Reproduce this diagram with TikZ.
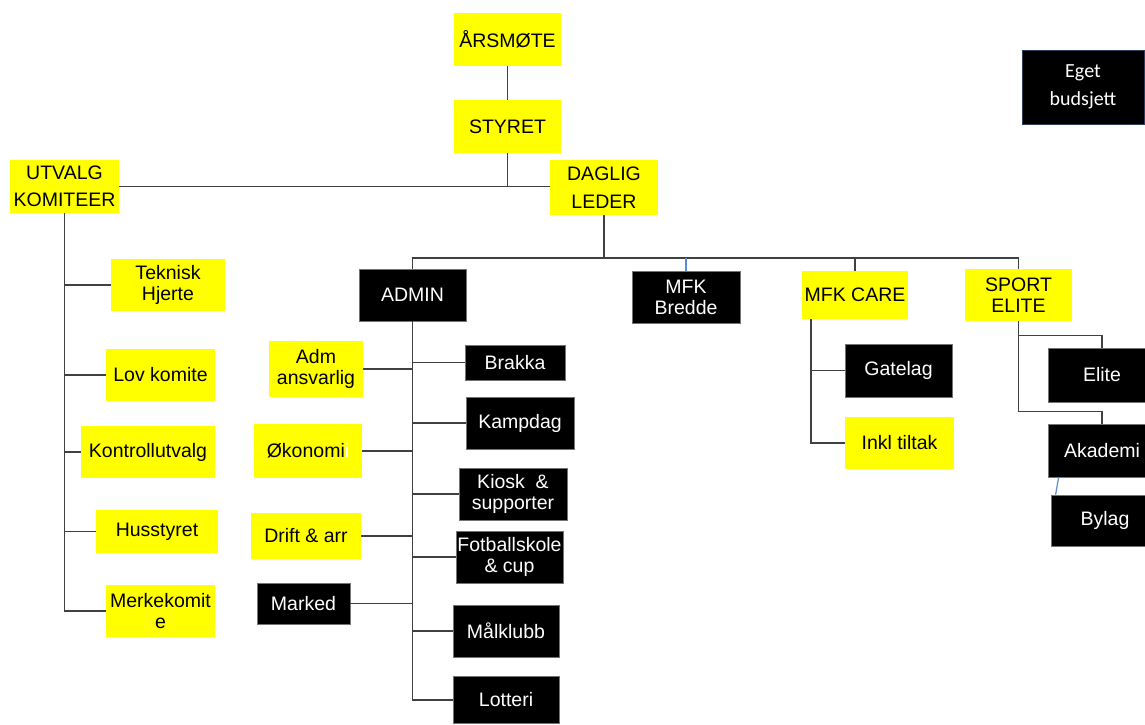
\documentclass[tikz,border=0pt]{standalone}
\usepackage{fontspec}
\setmainfont{Liberation Sans}
\newfontfamily\calfont{Carlito}
\definecolor{yel}{HTML}{FFFF00}
\definecolor{lin}{HTML}{404040}
\definecolor{blu}{HTML}{5B8BD0}
\definecolor{egetc}{HTML}{2F3E5C}
\begin{document}
\begin{tikzpicture}[x=1pt,y=-1pt,
  base/.style={inner sep=0pt, align=center, font=\fontsize{19.5}{21}\selectfont},
  ybox/.style={base, fill=yel, text=black},
  kbox/.style={base, fill=black, draw=black!55, line width=0.8pt, text=white},
  topf/.style={font=\fontsize{19.5}{27.5}\selectfont},
  conn/.style={draw=lin, line width=1.6pt},
  bconn/.style={draw=blu, line width=1.2pt},
  sz/.style 2 args={minimum width=#1pt, minimum height=#2pt}
]
\fill[white] (0,0) rectangle (1145,724);
\clip (0,0) rectangle (1145,724);

% top levels
\node[ybox,topf,sz={107}{53}] (aarsmote) at (507.5,39.5) {ÅRSMØTE};
\node[ybox,topf,sz={107}{53}] (styret) at (507.5,126.5) {STYRET};
\node[ybox,topf,sz={109}{53}] (utvalg) at (64.5,186.5) {UTVALG\\KOMITEER};
\node[ybox,topf,sz={108}{55}] (daglig) at (604,187.5) {DAGLIG\\LEDER};
\node[base, fill=black, draw=egetc, line width=1pt, text=white,
      font=\calfont\fontsize{20}{28}\selectfont, sz={122}{74}] (eget) at (1083,87) {Eget\\budsjett};

% second level
\node[kbox,sz={107}{52}] (admin) at (412.5,295) {ADMIN};
\node[kbox,sz={108}{52}] (bredde) at (686,297) {MFK\\Bredde};
\node[ybox,sz={106}{48}] (care) at (855,295) {MFK CARE};
\node[ybox,sz={107}{52}] (sport) at (1018.5,295) {SPORT\\ELITE};

% utvalg children
\node[ybox,sz={114}{52}] (teknisk) at (168,285) {Teknisk\\Hjerte};
\node[ybox,sz={109}{52}] (lov) at (160.5,375) {Lov komite};
\node[ybox,sz={134}{52}] (kontroll) at (148,452) {Kontrollutvalg};
\node[ybox,sz={122}{43}] (husstyret) at (157,531.5) {Husstyret};
\node[ybox,sz={109}{52}] (merke) at (160.5,611) {Merkekomit\\e};

% admin left children
\node[ybox,sz={94}{56}] (admansv) at (316,369) {Adm\\ansvarlig};
\node[ybox,sz={108}{54}] (okonomi) at (308,451) {Økonomi\textcolor{white}{i}};
\node[ybox,sz={110}{46}] (drift) at (306,536) {Drift \& arr};
\node[kbox,sz={93}{41}] (marked) at (303.5,603.5) {Marked};

% admin right children
\node[kbox,sz={100}{35}] (brakka) at (515,362.5) {Brakka};
\node[kbox,sz={108}{52}] (kampdag) at (520,423) {Kampdag};
\node[kbox,sz={108}{52}] (kiosk) at (513,494) {Kiosk\ \ \&\\supporter};
\node[kbox,sz={107}{52}] (fotball) at (509.5,557) {Fotballskole\\\& cup};
\node[kbox,sz={106}{52}] (malklubb) at (506,631) {Målklubb};
\node[kbox,sz={106}{47}] (lotteri) at (506,700) {Lotteri};

% care children
\node[kbox,sz={107}{53}] (gatelag) at (898.5,370.5) {Gatelag};
\node[ybox,sz={109}{52}] (inkl) at (899.5,443) {Inkl tiltak};

% sport children
\node[kbox,sz={108}{54}] (elite) at (1102,375) {Elite};
\node[kbox,sz={108}{53}] (akademi) at (1102,450.5) {Akademi};
\node[kbox,sz={108}{51}] (bylag) at (1105,520.5) {Bylag};

% connectors top
\draw[conn] (aarsmote.south) -- (styret.north);
\draw[conn] (utvalg.east) -- (daglig.west |- utvalg.east);
\draw[conn] (styret.south) -- (styret.south |- utvalg.east);
\coordinate (bus) at (604,258);
\draw[conn] (daglig.south) -- (bus);
\draw[conn] (admin.north) |- (sport.north |- bus) -- (sport.north);
\draw[conn] (care.north) -- (care.north |- bus);
\draw[bconn] (bredde.north) -- (bredde.north |- bus);

% utvalg tree
\draw[conn] (utvalg.south) -- (utvalg.south |- merke.west) -- (merke.west);
\foreach \n in {teknisk,lov,kontroll,husstyret}
  \draw[conn] (utvalg.south |- \n.west) -- (\n.west);

% admin tree
\draw[conn] (admin.south) -- (admin.south |- lotteri.west) -- (lotteri.west);
\foreach \n in {admansv,okonomi,drift,marked}
  \draw[conn] (admin.south |- \n.east) -- (\n.east);
\foreach \n in {brakka,kampdag,kiosk,fotball,malklubb}
  \draw[conn] (admin.south |- \n.west) -- (\n.west);

% care tree
\coordinate (carel) at ([xshift=-44pt]care.south);
\draw[conn] (carel) |- (inkl.west);
\draw[conn] (carel |- gatelag.west) -- (gatelag.west);

% sport tree
\draw[conn] (sport.south) |- ([yshift=12pt]akademi.north) -- (akademi.north);
\draw[conn] (sport.south) |- ([yshift=12pt]elite.north) -- (elite.north);
\draw[bconn] ([xshift=11pt]akademi.south west) -- ([xshift=5pt]bylag.north west);
\end{tikzpicture}
\end{document}
